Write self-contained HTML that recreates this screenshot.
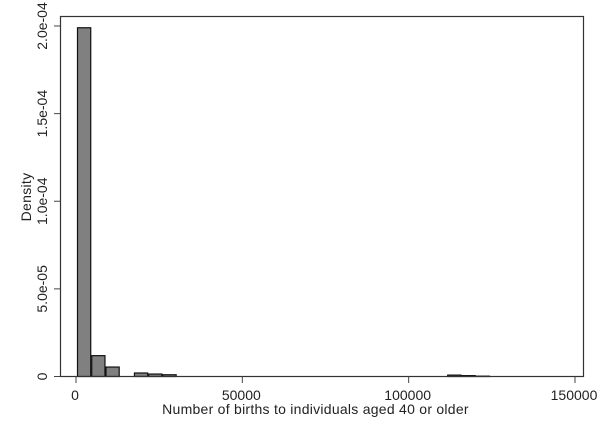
<!DOCTYPE html>
<html>
<head>
<meta charset="utf-8">
<title>Histogram of births</title>
<style>
html,body{margin:0;padding:0;background:#fff;}
svg{display:block;}
text{font-family:"Liberation Sans",Arial,sans-serif;font-size:14px;fill:#222;}
</style>
</head>
<body>
<svg id="chart" width="600" height="436" viewBox="0 0 600 436" xmlns="http://www.w3.org/2000/svg">
  <rect x="0" y="0" width="600" height="436" fill="#fff"/>
  <g id="bars"></g>
  <rect x="60.5" y="16.5" width="523" height="360" fill="none" stroke="#333" stroke-width="1.2"/>
  <g id="axes"></g>
  <text transform="translate(31,197) rotate(-90)" text-anchor="middle" style="letter-spacing:0.3px">Density</text>
  <text x="315.5" y="414" text-anchor="middle" style="letter-spacing:0.26px">Number of births to individuals aged 40 or older</text>
</svg>
<script>
const binWidth = 4280;
const binStart = 300;
const densities = [1.99e-4, 1.19e-5, 5.4e-6, 0, 2.0e-6, 1.4e-6, 1.0e-6, 0, 0, 0, 0, 0, 0, 0, 0, 0, 0, 0, 0, 0, 0, 0, 0, 0, 0, 0, 8e-7, 5e-7, 2e-7];
const xTickValues = [0, 50000, 100000, 150000];
const xTickLabels = ["0", "50000", "100000", "150000"];
const yTickValues = [0, 5e-5, 1e-4, 1.5e-4, 2e-4];
const yTickLabels = ["0", "5.0e-05", "1.0e-04", "1.5e-04", "2.0e-04"];

function xScale(v) { return 76 + v * (499 / 150000); }
function yScale(v) { return 376.5 - v * (350.5 / 2e-4); }

const NS = "http://www.w3.org/2000/svg";
const barsGroup = document.getElementById("bars");
const axesGroup = document.getElementById("axes");

densities.forEach(function (d, i) {
  if (d <= 0) return;
  const x0 = xScale(binStart + i * binWidth);
  const x1 = xScale(binStart + (i + 1) * binWidth);
  const top = yScale(d);
  const r = document.createElementNS(NS, "rect");
  r.setAttribute("x", x0 + 0.5);
  r.setAttribute("y", top);
  r.setAttribute("width", x1 - x0 - 1);
  r.setAttribute("height", 376.5 - top);
  r.setAttribute("fill", "#808080");
  r.setAttribute("stroke", "#111");
  r.setAttribute("stroke-width", "1.2");
  
  
  barsGroup.appendChild(r);
});

xTickValues.forEach(function (v, i) {
  const x = xScale(v);
  const t = document.createElementNS(NS, "line");
  t.setAttribute("x1", x);
  t.setAttribute("x2", x);
  t.setAttribute("y1", 376.5);
  t.setAttribute("y2", 383);
  t.setAttribute("stroke", "#444");
  
  
  axesGroup.appendChild(t);
  const l = document.createElementNS(NS, "text");
  l.setAttribute("x", x - 1);
  l.setAttribute("y", 400);
  l.setAttribute("text-anchor", "middle");
  l.textContent = xTickLabels[i];
  
  
  axesGroup.appendChild(l);
});

yTickValues.forEach(function (v, i) {
  const y = yScale(v);
  const t = document.createElementNS(NS, "line");
  t.setAttribute("x1", 54);
  t.setAttribute("x2", 60.5);
  t.setAttribute("y1", y);
  t.setAttribute("y2", y);
  t.setAttribute("stroke", "#444");
  
  
  axesGroup.appendChild(t);
  const l = document.createElementNS(NS, "text");
  l.setAttribute("transform", "translate(47," + y + ") rotate(-90)");
  l.setAttribute("text-anchor", "middle");
  l.textContent = yTickLabels[i];
  
  
  axesGroup.appendChild(l);
});
</script>
</body>
</html>
